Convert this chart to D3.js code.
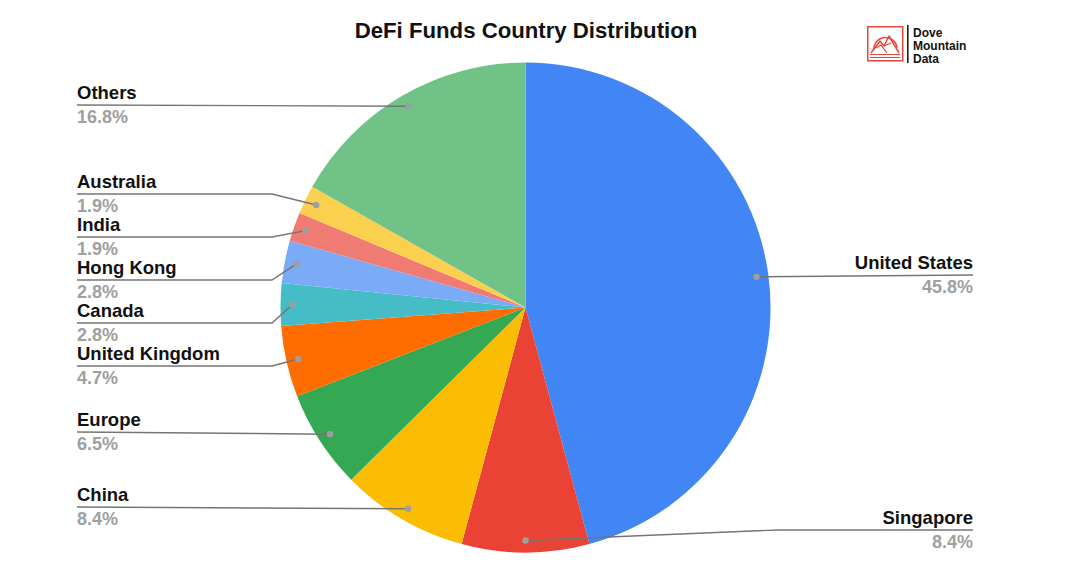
<!DOCTYPE html>
<html>
<head>
<meta charset="utf-8">
<script src="https://cdn.jsdelivr.net/npm/d3@7"></script>
<style>
  html, body { margin: 0; padding: 0; background: #fff; }
  svg { display: block; font-family: "Liberation Sans", Arial, sans-serif; }
</style>
</head>
<body>
<svg id="chart" width="1080" height="585"></svg>
<script>
// ---- data ----
const categories = ["United States", "Singapore", "China", "Europe", "United Kingdom",
                    "Canada", "Hong Kong", "India", "Australia", "Others"];
const values = [45.8, 8.4, 8.4, 6.5, 4.7, 2.8, 2.8, 1.9, 1.9, 16.8];
const percentLabels = ["45.8%", "8.4%", "8.4%", "6.5%", "4.7%", "2.8%", "2.8%", "1.9%", "1.9%", "16.8%"];
const colors = ["#4285F4", "#EA4335", "#FBBC04", "#34A853", "#FF6D01",
                "#46BDC6", "#7BAAF7", "#F07B72", "#FCD04F", "#71C287"];
const title = "DeFi Funds Country Distribution";
const logoLines = ["Dove", "Mountain", "Data"];

// ---- layout (not data) ----
const W = 1080, H = 585;
const cx = 525.5, cy = 307.5, R = 245, rDot = 233;
const leftX = 77, rightX = 973, elbowLeft = 272;
// label leader-line y positions, by category index
const labelLineY = [275, 530, 507, 432, 366, 323, 280, 237, 194, 105];
const labelSide  = ["R", "R", "L", "L", "L", "L", "L", "L", "L", "L"];

const svg = d3.select("#chart");

const pie = d3.pie().sort(null).value(d => d.v);
const arcs = pie(values.map((v, i) => ({ v, i })));
const arc = d3.arc().innerRadius(0).outerRadius(R);

const g = svg.append("g").attr("transform", `translate(${cx},${cy})`);
g.selectAll("path.slice").data(arcs).join("path")
  .attr("class", "slice")
  .attr("d", arc)
  .attr("fill", d => colors[d.data.i]);

// leaders & labels
const labels = svg.append("g");
arcs.forEach(a => {
  const i = a.data.i;
  const mid = (a.startAngle + a.endAngle) / 2;
  const dx = cx + rDot * Math.sin(mid);
  const dy = cy - rDot * Math.cos(mid);
  const ly = labelLineY[i];
  let pts;
  const straight = Math.abs(dy - ly) < 4;
  if (labelSide[i] === "L") {
    const ex = Math.min(elbowLeft, dx);
    pts = straight ? [[leftX, ly], [dx, dy]] : [[leftX, ly], [ex, ly], [dx, dy]];
  } else {
    pts = straight ? [[rightX, ly], [dx, dy]] : [[rightX, ly], [777, ly], [dx, dy]];
  }
  labels.append("path")
    .attr("d", d3.line()(pts))
    .attr("fill", "none")
    .attr("stroke", "#757575")
    .attr("stroke-width", 1.4);
  labels.append("circle")
    .attr("cx", dx).attr("cy", dy).attr("r", 3.2)
    .attr("fill", "#9e9e9e");
  const tx = labelSide[i] === "L" ? leftX : rightX;
  const anchor = labelSide[i] === "L" ? "start" : "end";
  labels.append("text")
    .attr("x", tx).attr("y", ly - 6)
    .attr("text-anchor", anchor)
    .attr("font-size", 18.5).attr("font-weight", "bold")
    .attr("fill", "#111")
    .text(categories[i]);
  labels.append("text")
    .attr("x", tx).attr("y", ly + 18)
    .attr("text-anchor", anchor)
    .attr("font-size", 18).attr("font-weight", "bold")
    .attr("fill", "#a0a0a0")
    .text(percentLabels[i]);
});

// title
svg.append("text")
  .attr("x", 526).attr("y", 38)
  .attr("text-anchor", "middle")
  .attr("font-size", 22.2).attr("font-weight", "bold")
  .attr("fill", "#111")
  .text(title);

// logo
const logo = svg.append("g").attr("transform", "translate(867,26)");
const red = "#E8473C";
logo.append("rect").attr("x", 0.75).attr("y", 0.75).attr("width", 35).attr("height", 34)
  .attr("fill", "none").attr("stroke", red).attr("stroke-width", 1.5);
logo.append("path").attr("d", "M7,24 A11.5,11.5 0 1 1 30,22")
  .attr("fill", "none").attr("stroke", red).attr("stroke-width", 1.5);
logo.append("path").attr("d", "M4,27 L13,15 L17,20 L22,10 L32,27")
  .attr("fill", "none").attr("stroke", red).attr("stroke-width", 1.5).attr("stroke-linejoin", "round");
logo.append("path").attr("d", "M9,22 L14,19 L20,27 M17,20 L24,17")
  .attr("fill", "none").attr("stroke", red).attr("stroke-width", 1.2);
logo.append("path").attr("d", "M3,28.5 H33 M3,31.5 H33")
  .attr("fill", "none").attr("stroke", red).attr("stroke-width", 1.2);
svg.append("rect").attr("x", 907).attr("y", 25).attr("width", 1.6).attr("height", 38).attr("fill", "#222");
logoLines.forEach((t, k) => {
  svg.append("text")
    .attr("x", 913).attr("y", 36.5 + k * 13)
    .attr("font-size", 12).attr("font-weight", "bold")
    .attr("fill", "#111")
    .text(t);
});
</script>
</body>
</html>
